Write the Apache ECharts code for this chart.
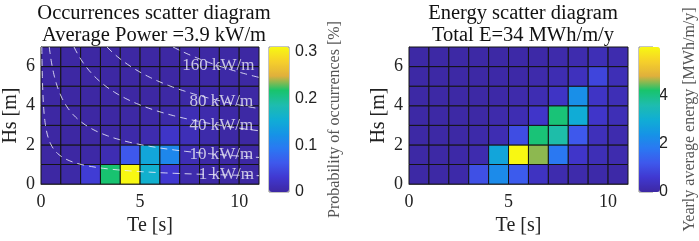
<!DOCTYPE html>
<html>
<head>
<meta charset="utf-8">
<script src="https://cdn.jsdelivr.net/npm/echarts@6/dist/echarts.min.js"></script>
<style>
html, body { margin: 0; padding: 0; background: #fff; }
#main { width: 699px; height: 241px; }
</style>
</head>
<body>
<div id="main"></div>
<script>
// lower edges of the bins
var teBins = [0, 1, 2, 3, 4, 5, 6, 7, 8, 9, 10];
var hsBins = [0, 1, 2, 3, 4, 5, 6];
var teTicks = [0, 5, 10];
var hsTicks = [0, 2, 4, 6];

// probability of occurrences [%]; one row per Hs bin (bottom -> top)
var occurrences = [
  [0, 0.003, 0.035, 0.215, 0.31, 0.16, 0.03, 0.006, 0.002, 0.001, 0],
  [0, 0, 0.002, 0.01, 0.062, 0.145, 0.11, 0.012, 0.003, 0.001, 0],
  [0, 0, 0, 0.001, 0.004, 0.008, 0.025, 0.014, 0.005, 0.001, 0],
  [0, 0, 0, 0, 0.001, 0.002, 0.005, 0.012, 0.006, 0.002, 0.001],
  [0, 0, 0, 0, 0, 0, 0.001, 0.003, 0.004, 0.002, 0.001],
  [0, 0, 0, 0, 0, 0, 0, 0.001, 0.002, 0.002, 0.001],
  [0, 0, 0, 0, 0, 0, 0, 0, 0.001, 0.001, 0]
];

// yearly average energy [MWh/m/y]; one row per Hs bin (bottom -> top)
var energy = [
  [0.03, 0.03, 0.08, 1.05, 2.2, 1.25, 0.4, 0.15, 0.1, 0.08, 0.05],
  [0.03, 0.03, 0.05, 0.15, 2.8, 6.0, 4.55, 1.8, 0.5, 0.25, 0.15],
  [0.03, 0.03, 0.03, 0.08, 0.2, 1.0, 4.1, 3.65, 1.2, 0.3, 0.15],
  [0.03, 0.03, 0.03, 0.03, 0.1, 0.2, 0.5, 4.1, 2.95, 0.5, 0.25],
  [0.03, 0.03, 0.03, 0.03, 0.05, 0.1, 0.2, 0.45, 2.3, 0.45, 0.25],
  [0.03, 0.03, 0.03, 0.03, 0.05, 0.05, 0.1, 0.2, 0.35, 0.85, 0.25],
  [0.03, 0.03, 0.03, 0.03, 0.03, 0.05, 0.05, 0.1, 0.15, 0.25, 0.15]
];

var occMax = 0.31;
var energyMax = 6.0;

// iso-power contour levels [kW/m]
var powerLevels = [1, 10, 40, 80, 160];
var labelTe = [9.35, 9.1, 9.1, 9.1, 8.95];

var parula = ['#3d28a3', '#4038d0', '#3e58ec', '#2a78f2', '#1594e6', '#10aed4',
              '#1ebcae', '#18c46c', '#e0b03c', '#f6d02a', '#f8f812'];

var serif = 'Liberation Serif';
var sans = 'Liberation Sans';

function cells(matrix) {
  var out = [];
  hsBins.forEach(function (hs, i) {
    teBins.forEach(function (te, j) {
      out.push([te, hs, matrix[i][j]]);
    });
  });
  return out;
}

var binW = teBins[1] - teBins[0];
var binH = hsBins[1] - hsBins[0];
var teMax = teBins[teBins.length - 1] + binW;
var hsMax = hsBins[hsBins.length - 1] + binH;

function renderCell(params, api) {
  var p0 = api.coord([api.value(0), api.value(1)]);
  var p1 = api.coord([api.value(0) + binW, api.value(1) + binH]);
  return {
    type: 'rect',
    shape: { x: p0[0], y: p1[1], width: p1[0] - p0[0], height: p0[1] - p1[1] },
    style: { fill: api.visual('color'), stroke: '#141414', lineWidth: 1 }
  };
}

// wave power P = 0.49 Hs^2 Te  ->  Hs along a contour
function hsAt(p, te) { return Math.sqrt(p / (0.49 * te)); }
function contour(p) {
  var te0 = p / (0.49 * hsMax * hsMax);
  var pts = [];
  for (var k = 0; k <= 80; k++) {
    var te = te0 * Math.pow(teMax / te0, k / 80);
    pts.push([te, hsAt(p, te)]);
  }
  return pts;
}

function plotXAxis(idx) {
  return {
    gridIndex: idx, type: 'value', min: 0, max: teMax, interval: 5,
    name: 'Te [s]', nameLocation: 'middle', nameGap: 27,
    nameTextStyle: { fontFamily: serif, fontSize: 20, color: '#222' },
    axisLine: { show: true, onZero: false, lineStyle: { color: '#777' } },
    axisTick: { show: false },
    splitLine: { show: false },
    axisLabel: { showMaxLabel: false, margin: 9, fontFamily: serif, fontSize: 18, color: '#222' }
  };
}
function plotYAxis(idx) {
  return {
    gridIndex: idx, type: 'value', min: 0, max: hsMax, interval: 2,
    name: 'Hs [m]', nameLocation: 'middle', nameGap: 20, nameRotate: 90,
    nameTextStyle: { fontFamily: serif, fontSize: 20, color: '#222' },
    axisLine: { show: true, onZero: false, lineStyle: { color: '#777' } },
    axisTick: { show: false },
    splitLine: { show: false },
    axisLabel: { showMaxLabel: false, margin: 6, fontFamily: serif, fontSize: 18, color: '#222' }
  };
}
function barYAxis(idx, max, interval, name, gap) {
  return {
    gridIndex: idx, type: 'value', min: 0, max: max, interval: interval, position: 'right',
    name: name, nameLocation: 'middle', nameGap: gap, nameRotate: 90,
    nameTextStyle: { fontFamily: serif, fontSize: 16, color: '#555' },
    axisLine: { show: false }, axisTick: { show: false }, splitLine: { show: false },
    axisLabel: { showMaxLabel: false, margin: 6, fontFamily: sans, fontSize: 16, color: '#222' }
  };
}

var series = [
  { type: 'custom', xAxisIndex: 0, yAxisIndex: 0, renderItem: renderCell,
    encode: { x: 0, y: 1 }, data: cells(occurrences) },
  { type: 'custom', xAxisIndex: 1, yAxisIndex: 1, renderItem: renderCell,
    encode: { x: 0, y: 1 }, data: cells(energy) }
];
powerLevels.forEach(function (p, i) {
  series.push({
    type: 'line', xAxisIndex: 0, yAxisIndex: 0, showSymbol: false, silent: true, z: 5,
    lineStyle: { color: 'rgba(235,235,250,0.85)', width: 1, type: [7, 5] },
    data: contour(p)
  });
});
series.push({
  type: 'scatter', xAxisIndex: 0, yAxisIndex: 0, symbolSize: 1, silent: true, z: 6,
  itemStyle: { color: 'rgba(0,0,0,0)' },
  label: {
    show: true, position: 'inside', fontFamily: serif, fontSize: 17, color: '#ececf6',
    formatter: function (d) { return d.value[2] + ' kW/m'; }
  },
  data: powerLevels.map(function (p, i) { return [labelTe[i], hsAt(p, labelTe[i]), p]; })
});

var option = {
  backgroundColor: '#fff',
  animation: false,
  title: [
    { text: 'Occurrences scatter diagram\nAverage Power =3.9 kW/m', left: 149, top: -2, textAlign: 'center',
      textStyle: { fontFamily: serif, fontSize: 20.5, fontWeight: 'normal', color: '#111', lineHeight: 22 } },
    { text: 'Energy scatter diagram\nTotal E=34 MWh/m/y', left: 518, top: -2, textAlign: 'center',
      textStyle: { fontFamily: serif, fontSize: 20.5, fontWeight: 'normal', color: '#111', lineHeight: 22 } }
  ],
  grid: [
    { left: 39, top: 47, width: 220, height: 145 },
    { left: 409, top: 47, width: 219, height: 145 },
    { left: 269, top: 47, width: 20, height: 145, show: true, borderColor: '#888', borderWidth: 1 },
    { left: 639, top: 47, width: 21, height: 145, show: true, borderColor: '#888', borderWidth: 1 }
  ],
  xAxis: [plotXAxis(0), plotXAxis(1),
    { gridIndex: 2, type: 'value', show: false },
    { gridIndex: 3, type: 'value', show: false }],
  yAxis: [plotYAxis(0), plotYAxis(1),
    barYAxis(2, occMax, 0.1, 'Probability of occurrences [%]', 38),
    barYAxis(3, energyMax, 2, 'Yearly average energy [MWh/m/y]', 29)],
  visualMap: [
    { type: 'continuous', seriesIndex: 0, dimension: 2, min: 0, max: occMax,
      left: 269, top: 47, itemWidth: 20, itemHeight: 145, padding: 0,
      calculable: false, hoverLink: false, showLabel: false, text: null,
      inRange: { color: parula } },
    { type: 'continuous', seriesIndex: 1, dimension: 2, min: 0, max: energyMax,
      left: 639, top: 47, itemWidth: 21, itemHeight: 145, padding: 0,
      calculable: false, hoverLink: false, showLabel: false, text: null,
      inRange: { color: parula } }
  ],
  series: series
};

var chart = echarts.init(document.getElementById('main'));
chart.setOption(option);
</script>
</body>
</html>
